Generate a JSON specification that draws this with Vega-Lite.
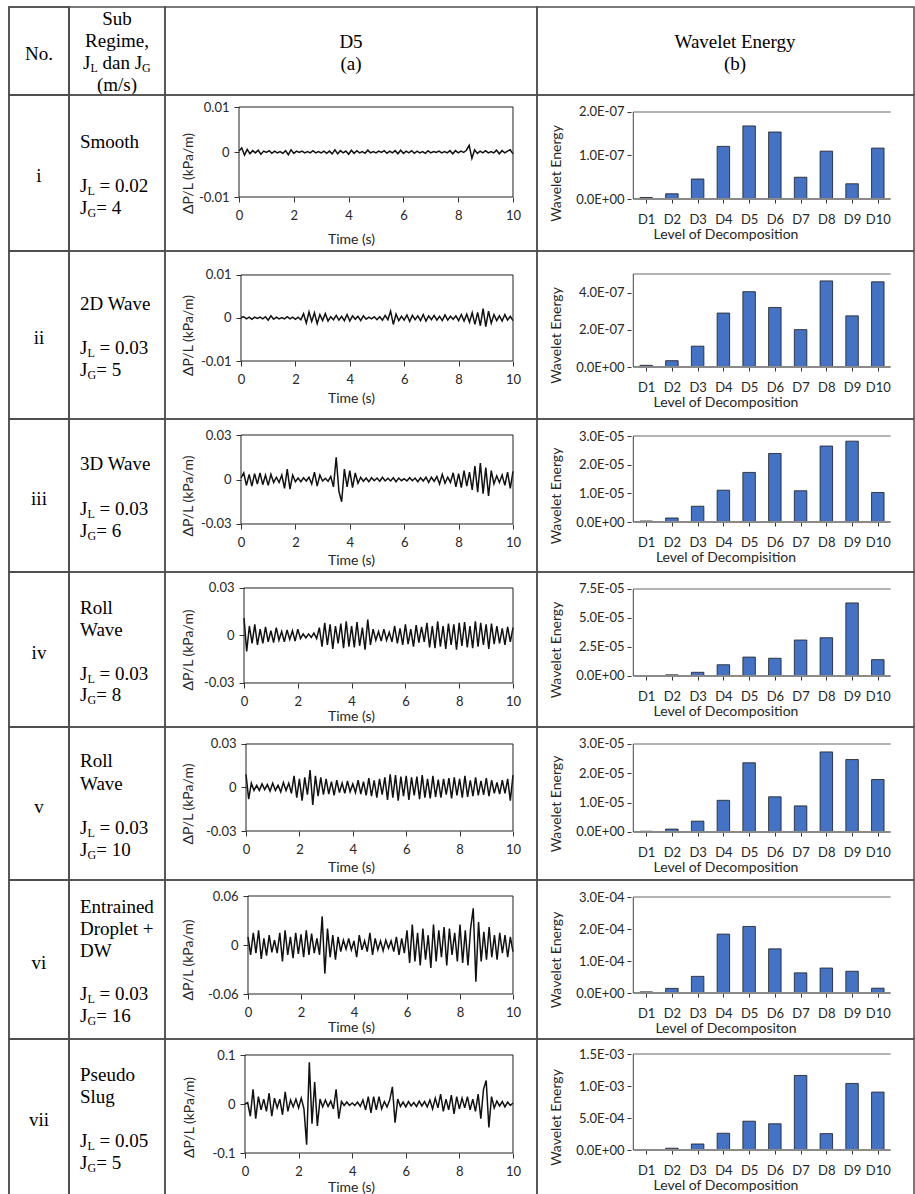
{
"$schema": "https://vega.github.io/schema/vega-lite/v6.json",
"background": "white",
"padding": {"left": 0, "top": 5, "right": 0, "bottom": 0},
"spacing": 0,
"bounds": "flush",
"columns": 5,
"config": {
 "view": {"stroke": "#4d4d4d", "strokeWidth": 1.5},
 "concat": {"spacing": 0},
 "axis": {"domain": false, "grid": false, "labelFont": "Lato", "titleFont": "Lato", "labelFontSize": 13, "titleFontSize": 14, "titleFontWeight": "normal", "labelColor": "#262626", "titleColor": "#262626", "tickColor": "#333", "labelFlush": false, "labelOverlap": false},
 "axisX": {"tickSize": 5, "labelPadding": 7},
 "axisY": {"tickSize": 5, "labelPadding": 5},
 "text": {"font": "Liberation Serif", "fontSize": 19, "color": "#000"}
},
"datasets": {
"s1": [{"t":0,"v":0.0002},{"t":0.1,"v":0.0009},{"t":0.2,"v":-0.0007},{"t":0.3,"v":0.0006},{"t":0.4,"v":-0.0004},{"t":0.5,"v":0.0003},{"t":0.6,"v":-0.0002},{"t":0.7,"v":0.0004},{"t":0.8,"v":-0.0005},{"t":0.9,"v":0.0002},
{"t":1,"v":-0.0001},{"t":1.1,"v":0.0003},{"t":1.2,"v":-0.0003},{"t":1.3,"v":0.0002},{"t":1.4,"v":-0.0002},{"t":1.5,"v":0.0001},{"t":1.6,"v":-0.0003},{"t":1.7,"v":0.0003},{"t":1.8,"v":-0.0006},{"t":1.9,"v":0.0005},
{"t":2,"v":-0.0003},{"t":2.1,"v":0.0002},{"t":2.2,"v":-0.0001},{"t":2.3,"v":0.0002},{"t":2.4,"v":-0.0002},{"t":2.5,"v":0.0001},{"t":2.6,"v":-0.0002},{"t":2.7,"v":0.0003},{"t":2.8,"v":-0.0002},{"t":2.9,"v":0.0001},
{"t":3,"v":-0.0002},{"t":3.1,"v":0.0002},{"t":3.2,"v":-0.0003},{"t":3.3,"v":0.0002},{"t":3.4,"v":-0.0004},{"t":3.5,"v":0.0005},{"t":3.6,"v":-0.0004},{"t":3.7,"v":0.0003},{"t":3.8,"v":-0.0002},{"t":3.9,"v":0.0002},
{"t":4,"v":-0.0005},{"t":4.1,"v":0.0004},{"t":4.2,"v":-0.0003},{"t":4.3,"v":0.0003},{"t":4.4,"v":-0.0002},{"t":4.5,"v":0.0001},{"t":4.6,"v":-0.0003},{"t":4.7,"v":0.0004},{"t":4.8,"v":-0.0002},{"t":4.9,"v":0.0001},
{"t":5,"v":-0.0002},{"t":5.1,"v":0.0002},{"t":5.2,"v":-0.0001},{"t":5.3,"v":0.0003},{"t":5.4,"v":-0.0003},{"t":5.5,"v":0.0002},{"t":5.6,"v":-0.0002},{"t":5.7,"v":0.0003},{"t":5.8,"v":-0.0004},{"t":5.9,"v":0.0004},
{"t":6,"v":-0.0003},{"t":6.1,"v":0.0002},{"t":6.2,"v":-0.0002},{"t":6.3,"v":0.0003},{"t":6.4,"v":-0.0003},{"t":6.5,"v":0.0002},{"t":6.6,"v":-0.0002},{"t":6.7,"v":0.0001},{"t":6.8,"v":-0.0003},{"t":6.9,"v":0.0003},
{"t":7,"v":-0.0002},{"t":7.1,"v":0.0001},{"t":7.2,"v":-0.0001},{"t":7.3,"v":0.0002},{"t":7.4,"v":-0.0002},{"t":7.5,"v":0.0001},{"t":7.6,"v":-0.0002},{"t":7.7,"v":0.0003},{"t":7.8,"v":-0.0004},{"t":7.9,"v":0.0003},
{"t":8,"v":-0.0002},{"t":8.1,"v":0.0002},{"t":8.2,"v":-0.0001},{"t":8.3,"v":0.0004},{"t":8.4,"v":0.0015},{"t":8.5,"v":-0.0014},{"t":8.6,"v":0.0005},{"t":8.7,"v":-0.0003},{"t":8.8,"v":0.0002},{"t":8.9,"v":-0.0002},
{"t":9,"v":0.0003},{"t":9.1,"v":-0.0002},{"t":9.2,"v":0.0001},{"t":9.3,"v":-0.0002},{"t":9.4,"v":0.0004},{"t":9.5,"v":-0.0004},{"t":9.6,"v":0.0003},{"t":9.7,"v":-0.0002},{"t":9.8,"v":0.0002},{"t":9.9,"v":0.0005},
{"t":10,"v":-0.0004}],
"s2": [{"t":0,"v":0.0001},{"t":0.1,"v":0.0003},{"t":0.2,"v":-0.0002},{"t":0.3,"v":0.0002},{"t":0.4,"v":-0.0003},{"t":0.5,"v":0.0002},{"t":0.6,"v":-0.0001},{"t":0.7,"v":0.0002},{"t":0.8,"v":-0.0002},{"t":0.9,"v":0.0003},
{"t":1,"v":-0.0005},{"t":1.1,"v":0.0005},{"t":1.2,"v":-0.0003},{"t":1.3,"v":0.0002},{"t":1.4,"v":-0.0002},{"t":1.5,"v":0.0001},{"t":1.6,"v":-0.0002},{"t":1.7,"v":0.0003},{"t":1.8,"v":-0.0002},{"t":1.9,"v":0.0002},
{"t":2,"v":-0.0003},{"t":2.1,"v":0.0002},{"t":2.2,"v":-0.0004},{"t":2.3,"v":0.001},{"t":2.4,"v":-0.0012},{"t":2.5,"v":0.0014},{"t":2.6,"v":-0.0008},{"t":2.7,"v":0.0012},{"t":2.8,"v":-0.0013},{"t":2.9,"v":0.0008},
{"t":3,"v":-0.0006},{"t":3.1,"v":0.001},{"t":3.2,"v":-0.0007},{"t":3.3,"v":0.0003},{"t":3.4,"v":-0.0004},{"t":3.5,"v":0.0006},{"t":3.6,"v":-0.0005},{"t":3.7,"v":0.0004},{"t":3.8,"v":-0.0006},{"t":3.9,"v":0.0008},
{"t":4,"v":-0.0007},{"t":4.1,"v":0.0005},{"t":4.2,"v":-0.0003},{"t":4.3,"v":0.0004},{"t":4.4,"v":-0.0006},{"t":4.5,"v":0.0005},{"t":4.6,"v":-0.0003},{"t":4.7,"v":0.0002},{"t":4.8,"v":-0.0002},{"t":4.9,"v":0.0003},
{"t":5,"v":-0.0004},{"t":5.1,"v":0.0003},{"t":5.2,"v":-0.0005},{"t":5.3,"v":0.0006},{"t":5.4,"v":-0.0004},{"t":5.5,"v":0.0016},{"t":5.6,"v":-0.0015},{"t":5.7,"v":0.0009},{"t":5.8,"v":-0.0006},{"t":5.9,"v":0.0004},
{"t":6,"v":-0.0005},{"t":6.1,"v":0.0007},{"t":6.2,"v":-0.0008},{"t":6.3,"v":0.0006},{"t":6.4,"v":-0.0004},{"t":6.5,"v":0.0005},{"t":6.6,"v":-0.0006},{"t":6.7,"v":0.0008},{"t":6.8,"v":-0.0007},{"t":6.9,"v":0.0005},
{"t":7,"v":-0.0004},{"t":7.1,"v":0.0006},{"t":7.2,"v":-0.0005},{"t":7.3,"v":0.0004},{"t":7.4,"v":-0.0006},{"t":7.5,"v":0.0007},{"t":7.6,"v":-0.0005},{"t":7.7,"v":0.0004},{"t":7.8,"v":-0.0003},{"t":7.9,"v":0.0005},
{"t":8,"v":-0.0006},{"t":8.1,"v":0.0008},{"t":8.2,"v":-0.0007},{"t":8.3,"v":0.0009},{"t":8.4,"v":-0.001},{"t":8.5,"v":0.0012},{"t":8.6,"v":-0.0015},{"t":8.7,"v":0.0013},{"t":8.8,"v":-0.0018},{"t":8.9,"v":0.0022},
{"t":9,"v":-0.002},{"t":9.1,"v":0.0016},{"t":9.2,"v":-0.0012},{"t":9.3,"v":0.0008},{"t":9.4,"v":-0.0006},{"t":9.5,"v":0.0005},{"t":9.6,"v":-0.0007},{"t":9.7,"v":0.0008},{"t":9.8,"v":-0.0005},{"t":9.9,"v":0.0004},
{"t":10,"v":-0.0006}],
"s3": [{"t":0,"v":0.001},{"t":0.1,"v":0.0045},{"t":0.2,"v":-0.004},{"t":0.3,"v":0.0035},{"t":0.4,"v":-0.0045},{"t":0.5,"v":0.004},{"t":0.6,"v":-0.003},{"t":0.7,"v":0.0045},{"t":0.8,"v":-0.0035},{"t":0.9,"v":0.003},
{"t":1,"v":-0.004},{"t":1.1,"v":0.0035},{"t":1.2,"v":-0.002},{"t":1.3,"v":0.0015},{"t":1.4,"v":-0.002},{"t":1.5,"v":0.003},{"t":1.6,"v":-0.006},{"t":1.7,"v":0.007},{"t":1.8,"v":-0.0065},{"t":1.9,"v":0.003},
{"t":2,"v":-0.0015},{"t":2.1,"v":0.001},{"t":2.2,"v":-0.0015},{"t":2.3,"v":0.0012},{"t":2.4,"v":-0.001},{"t":2.5,"v":0.0015},{"t":2.6,"v":-0.003},{"t":2.7,"v":0.005},{"t":2.8,"v":-0.0045},{"t":2.9,"v":0.003},
{"t":3,"v":-0.001},{"t":3.1,"v":0.0008},{"t":3.2,"v":-0.0012},{"t":3.3,"v":0.002},{"t":3.4,"v":-0.005},{"t":3.5,"v":0.015},{"t":3.6,"v":-0.008},{"t":3.7,"v":-0.015},{"t":3.8,"v":0.007},{"t":3.9,"v":-0.005},
{"t":4,"v":0.006},{"t":4.1,"v":-0.0055},{"t":4.2,"v":0.0045},{"t":4.3,"v":-0.0025},{"t":4.4,"v":0.0015},{"t":4.5,"v":-0.0012},{"t":4.6,"v":0.001},{"t":4.7,"v":-0.0015},{"t":4.8,"v":0.0012},{"t":4.9,"v":-0.0008},
{"t":5,"v":0.001},{"t":5.1,"v":-0.0012},{"t":5.2,"v":0.0015},{"t":5.3,"v":-0.001},{"t":5.4,"v":0.0008},{"t":5.5,"v":-0.001},{"t":5.6,"v":0.0012},{"t":5.7,"v":-0.0015},{"t":5.8,"v":0.001},{"t":5.9,"v":-0.0008},
{"t":6,"v":0.0006},{"t":6.1,"v":-0.001},{"t":6.2,"v":0.0012},{"t":6.3,"v":-0.0008},{"t":6.4,"v":0.001},{"t":6.5,"v":-0.0015},{"t":6.6,"v":0.0012},{"t":6.7,"v":-0.001},{"t":6.8,"v":0.0015},{"t":6.9,"v":-0.002},
{"t":7,"v":0.0015},{"t":7.1,"v":-0.0012},{"t":7.2,"v":0.002},{"t":7.3,"v":-0.003},{"t":7.4,"v":0.0035},{"t":7.5,"v":-0.0025},{"t":7.6,"v":0.0015},{"t":7.7,"v":-0.002},{"t":7.8,"v":0.0045},{"t":7.9,"v":-0.005},
{"t":8,"v":0.004},{"t":8.1,"v":-0.0055},{"t":8.2,"v":0.006},{"t":8.3,"v":-0.0045},{"t":8.4,"v":0.005},{"t":8.5,"v":-0.007},{"t":8.6,"v":0.009},{"t":8.7,"v":-0.0085},{"t":8.8,"v":0.011},{"t":8.9,"v":-0.0095},
{"t":9,"v":0.008},{"t":9.1,"v":-0.011},{"t":9.2,"v":0.006},{"t":9.3,"v":-0.003},{"t":9.4,"v":0.0025},{"t":9.5,"v":-0.002},{"t":9.6,"v":0.003},{"t":9.7,"v":-0.004},{"t":9.8,"v":0.005},{"t":9.9,"v":-0.006},
{"t":10,"v":0.0055}],
"s4": [{"t":0,"v":0.011},{"t":0.1,"v":-0.01},{"t":0.2,"v":0.006},{"t":0.3,"v":-0.005},{"t":0.4,"v":0.007},{"t":0.5,"v":-0.006},{"t":0.6,"v":0.004},{"t":0.7,"v":-0.005},{"t":0.8,"v":0.0055},{"t":0.9,"v":-0.004},
{"t":1,"v":0.003},{"t":1.1,"v":-0.0045},{"t":1.2,"v":0.005},{"t":1.3,"v":-0.003},{"t":1.4,"v":0.0025},{"t":1.5,"v":-0.004},{"t":1.6,"v":0.0035},{"t":1.7,"v":-0.0025},{"t":1.8,"v":0.003},{"t":1.9,"v":-0.0035},
{"t":2,"v":0.004},{"t":2.1,"v":-0.002},{"t":2.2,"v":0.001},{"t":2.3,"v":-0.0015},{"t":2.4,"v":0.001},{"t":2.5,"v":-0.0012},{"t":2.6,"v":0.0015},{"t":2.7,"v":-0.002},{"t":2.8,"v":0.005},{"t":2.9,"v":-0.007},
{"t":3,"v":0.008},{"t":3.1,"v":-0.006},{"t":3.2,"v":0.007},{"t":3.3,"v":-0.0085},{"t":3.4,"v":0.006},{"t":3.5,"v":-0.005},{"t":3.6,"v":0.0075},{"t":3.7,"v":-0.008},{"t":3.8,"v":0.009},{"t":3.9,"v":-0.007},
{"t":4,"v":0.006},{"t":4.1,"v":-0.0075},{"t":4.2,"v":0.0085},{"t":4.3,"v":-0.0065},{"t":4.4,"v":0.005},{"t":4.5,"v":-0.009},{"t":4.6,"v":0.01},{"t":4.7,"v":-0.006},{"t":4.8,"v":0.004},{"t":4.9,"v":-0.003},
{"t":5,"v":0.0025},{"t":5.1,"v":-0.0035},{"t":5.2,"v":0.004},{"t":5.3,"v":-0.003},{"t":5.4,"v":0.002},{"t":5.5,"v":-0.004},{"t":5.6,"v":0.006},{"t":5.7,"v":-0.005},{"t":5.8,"v":0.0045},{"t":5.9,"v":-0.006},
{"t":6,"v":0.007},{"t":6.1,"v":-0.0055},{"t":6.2,"v":0.004},{"t":6.3,"v":-0.007},{"t":6.4,"v":0.0065},{"t":6.5,"v":-0.0045},{"t":6.6,"v":0.0055},{"t":6.7,"v":-0.004},{"t":6.8,"v":0.008},{"t":6.9,"v":-0.0075},
{"t":7,"v":0.006},{"t":7.1,"v":-0.008},{"t":7.2,"v":0.009},{"t":7.3,"v":-0.007},{"t":7.4,"v":0.006},{"t":7.5,"v":-0.0085},{"t":7.6,"v":0.0075},{"t":7.7,"v":-0.006},{"t":7.8,"v":0.007},{"t":7.9,"v":-0.009},
{"t":8,"v":0.008},{"t":8.1,"v":-0.0065},{"t":8.2,"v":0.0085},{"t":8.3,"v":-0.0075},{"t":8.4,"v":0.006},{"t":8.5,"v":-0.008},{"t":8.6,"v":0.009},{"t":8.7,"v":-0.007},{"t":8.8,"v":0.008},{"t":8.9,"v":-0.006},
{"t":9,"v":0.007},{"t":9.1,"v":-0.0085},{"t":9.2,"v":0.0075},{"t":9.3,"v":-0.0055},{"t":9.4,"v":0.006},{"t":9.5,"v":-0.005},{"t":9.6,"v":0.0045},{"t":9.7,"v":-0.006},{"t":9.8,"v":0.0055},{"t":9.9,"v":-0.004},
{"t":10,"v":0.005}],
"s5": [{"t":0,"v":0.009},{"t":0.1,"v":-0.008},{"t":0.2,"v":0.003},{"t":0.3,"v":-0.002},{"t":0.4,"v":0.0015},{"t":0.5,"v":-0.002},{"t":0.6,"v":0.0025},{"t":0.7,"v":-0.0015},{"t":0.8,"v":0.002},{"t":0.9,"v":-0.0025},
{"t":1,"v":0.003},{"t":1.1,"v":-0.002},{"t":1.2,"v":0.0015},{"t":1.3,"v":-0.003},{"t":1.4,"v":0.0035},{"t":1.5,"v":-0.002},{"t":1.6,"v":0.003},{"t":1.7,"v":-0.004},{"t":1.8,"v":0.008},{"t":1.9,"v":-0.007},
{"t":2,"v":0.006},{"t":2.1,"v":-0.009},{"t":2.2,"v":0.007},{"t":2.3,"v":-0.005},{"t":2.4,"v":0.012},{"t":2.5,"v":-0.012},{"t":2.6,"v":0.008},{"t":2.7,"v":-0.006},{"t":2.8,"v":0.007},{"t":2.9,"v":-0.005},
{"t":3,"v":0.006},{"t":3.1,"v":-0.0045},{"t":3.2,"v":0.004},{"t":3.3,"v":-0.0055},{"t":3.4,"v":0.005},{"t":3.5,"v":-0.0035},{"t":3.6,"v":0.003},{"t":3.7,"v":-0.004},{"t":3.8,"v":0.0045},{"t":3.9,"v":-0.003},
{"t":4,"v":0.0025},{"t":4.1,"v":-0.0035},{"t":4.2,"v":0.005},{"t":4.3,"v":-0.0045},{"t":4.4,"v":0.004},{"t":4.5,"v":-0.0055},{"t":4.6,"v":0.0065},{"t":4.7,"v":-0.006},{"t":4.8,"v":0.005},{"t":4.9,"v":-0.007},
{"t":5,"v":0.006},{"t":5.1,"v":-0.005},{"t":5.2,"v":0.007},{"t":5.3,"v":-0.0085},{"t":5.4,"v":0.009},{"t":5.5,"v":-0.007},{"t":5.6,"v":0.0085},{"t":5.7,"v":-0.009},{"t":5.8,"v":0.0075},{"t":5.9,"v":-0.006},
{"t":6,"v":0.008},{"t":6.1,"v":-0.0085},{"t":6.2,"v":0.007},{"t":6.3,"v":-0.0055},{"t":6.4,"v":0.0075},{"t":6.5,"v":-0.008},{"t":6.6,"v":0.0085},{"t":6.7,"v":-0.007},{"t":6.8,"v":0.006},{"t":6.9,"v":-0.0075},
{"t":7,"v":0.008},{"t":7.1,"v":-0.0065},{"t":7.2,"v":0.0055},{"t":7.3,"v":-0.007},{"t":7.4,"v":0.006},{"t":7.5,"v":-0.005},{"t":7.6,"v":0.0065},{"t":7.7,"v":-0.0075},{"t":7.8,"v":0.007},{"t":7.9,"v":-0.0055},
{"t":8,"v":0.006},{"t":8.1,"v":-0.007},{"t":8.2,"v":0.008},{"t":8.3,"v":-0.0065},{"t":8.4,"v":0.005},{"t":8.5,"v":-0.006},{"t":8.6,"v":0.007},{"t":8.7,"v":-0.0055},{"t":8.8,"v":0.0045},{"t":8.9,"v":-0.005},
{"t":9,"v":0.0065},{"t":9.1,"v":-0.006},{"t":9.2,"v":0.005},{"t":9.3,"v":-0.004},{"t":9.4,"v":0.0035},{"t":9.5,"v":-0.0045},{"t":9.6,"v":0.005},{"t":9.7,"v":-0.004},{"t":9.8,"v":0.006},{"t":9.9,"v":-0.009},
{"t":10,"v":0.0085}],
"s6": [{"t":0,"v":0.01},{"t":0.1,"v":-0.012},{"t":0.2,"v":0.015},{"t":0.3,"v":-0.01},{"t":0.4,"v":0.018},{"t":0.5,"v":-0.017},{"t":0.6,"v":0.008},{"t":0.7,"v":-0.013},{"t":0.8,"v":0.012},{"t":0.9,"v":-0.009},
{"t":1,"v":0.006},{"t":1.1,"v":-0.01},{"t":1.2,"v":0.015},{"t":1.3,"v":-0.02},{"t":1.4,"v":0.018},{"t":1.5,"v":-0.012},{"t":1.6,"v":0.01},{"t":1.7,"v":-0.016},{"t":1.8,"v":0.015},{"t":1.9,"v":-0.011},
{"t":2,"v":0.013},{"t":2.1,"v":-0.015},{"t":2.2,"v":0.018},{"t":2.3,"v":-0.012},{"t":2.4,"v":0.014},{"t":2.5,"v":-0.01},{"t":2.6,"v":0.008},{"t":2.7,"v":-0.012},{"t":2.8,"v":0.035},{"t":2.9,"v":-0.035},
{"t":3,"v":0.02},{"t":3.1,"v":-0.015},{"t":3.2,"v":0.012},{"t":3.3,"v":-0.018},{"t":3.4,"v":0.01},{"t":3.5,"v":-0.008},{"t":3.6,"v":0.006},{"t":3.7,"v":-0.005},{"t":3.8,"v":0.008},{"t":3.9,"v":-0.006},
{"t":4,"v":0.005},{"t":4.1,"v":-0.015},{"t":4.2,"v":0.012},{"t":4.3,"v":-0.006},{"t":4.4,"v":0.005},{"t":4.5,"v":-0.008},{"t":4.6,"v":0.015},{"t":4.7,"v":-0.012},{"t":4.8,"v":0.008},{"t":4.9,"v":-0.006},
{"t":5,"v":0.005},{"t":5.1,"v":-0.007},{"t":5.2,"v":0.006},{"t":5.3,"v":-0.004},{"t":5.4,"v":0.005},{"t":5.5,"v":-0.008},{"t":5.6,"v":0.01},{"t":5.7,"v":-0.012},{"t":5.8,"v":0.008},{"t":5.9,"v":-0.01},
{"t":6,"v":0.018},{"t":6.1,"v":-0.022},{"t":6.2,"v":0.025},{"t":6.3,"v":-0.02},{"t":6.4,"v":0.015},{"t":6.5,"v":-0.025},{"t":6.6,"v":0.02},{"t":6.7,"v":-0.018},{"t":6.8,"v":0.012},{"t":6.9,"v":-0.028},
{"t":7,"v":0.025},{"t":7.1,"v":-0.02},{"t":7.2,"v":0.018},{"t":7.3,"v":-0.015},{"t":7.4,"v":0.022},{"t":7.5,"v":-0.025},{"t":7.6,"v":0.02},{"t":7.7,"v":-0.012},{"t":7.8,"v":0.015},{"t":7.9,"v":-0.02},
{"t":8,"v":0.025},{"t":8.1,"v":-0.022},{"t":8.2,"v":0.018},{"t":8.3,"v":-0.025},{"t":8.4,"v":0.02},{"t":8.5,"v":0.045},{"t":8.6,"v":-0.045},{"t":8.7,"v":0.028},{"t":8.8,"v":-0.02},{"t":8.9,"v":0.016},
{"t":9,"v":-0.018},{"t":9.1,"v":0.022},{"t":9.2,"v":-0.015},{"t":9.3,"v":0.012},{"t":9.4,"v":-0.018},{"t":9.5,"v":0.015},{"t":9.6,"v":-0.01},{"t":9.7,"v":0.012},{"t":9.8,"v":-0.015},{"t":9.9,"v":0.01},
{"t":10,"v":-0.008}],
"s7": [{"t":0,"v":0},{"t":0.1,"v":0.003},{"t":0.2,"v":-0.025},{"t":0.3,"v":0.03},{"t":0.4,"v":-0.03},{"t":0.5,"v":0.015},{"t":0.6,"v":-0.012},{"t":0.7,"v":0.01},{"t":0.8,"v":-0.015},{"t":0.9,"v":0.022},
{"t":1,"v":-0.025},{"t":1.1,"v":0.012},{"t":1.2,"v":-0.008},{"t":1.3,"v":0.01},{"t":1.4,"v":-0.022},{"t":1.5,"v":0.025},{"t":1.6,"v":-0.015},{"t":1.7,"v":0.008},{"t":1.8,"v":-0.006},{"t":1.9,"v":0.01},
{"t":2,"v":-0.008},{"t":2.1,"v":0.012},{"t":2.2,"v":-0.01},{"t":2.3,"v":-0.083},{"t":2.4,"v":0.085},{"t":2.5,"v":-0.04},{"t":2.6,"v":0.045},{"t":2.7,"v":-0.045},{"t":2.8,"v":0.01},{"t":2.9,"v":-0.006},
{"t":3,"v":0.008},{"t":3.1,"v":-0.005},{"t":3.2,"v":0.006},{"t":3.3,"v":-0.01},{"t":3.4,"v":0.03},{"t":3.5,"v":-0.03},{"t":3.6,"v":0.005},{"t":3.7,"v":-0.003},{"t":3.8,"v":0.004},{"t":3.9,"v":-0.003},
{"t":4,"v":0.002},{"t":4.1,"v":-0.003},{"t":4.2,"v":0.004},{"t":4.3,"v":-0.005},{"t":4.4,"v":0.008},{"t":4.5,"v":-0.012},{"t":4.6,"v":0.015},{"t":4.7,"v":-0.018},{"t":4.8,"v":0.015},{"t":4.9,"v":-0.012},
{"t":5,"v":0.015},{"t":5.1,"v":-0.01},{"t":5.2,"v":0.005},{"t":5.3,"v":-0.006},{"t":5.4,"v":0.008},{"t":5.5,"v":0.035},{"t":5.6,"v":-0.038},{"t":5.7,"v":0.01},{"t":5.8,"v":-0.005},{"t":5.9,"v":0.004},
{"t":6,"v":-0.006},{"t":6.1,"v":0.005},{"t":6.2,"v":-0.004},{"t":6.3,"v":0.003},{"t":6.4,"v":-0.005},{"t":6.5,"v":0.006},{"t":6.6,"v":-0.004},{"t":6.7,"v":0.005},{"t":6.8,"v":-0.006},{"t":6.9,"v":0.008},
{"t":7,"v":-0.01},{"t":7.1,"v":0.012},{"t":7.2,"v":-0.008},{"t":7.3,"v":0.02},{"t":7.4,"v":-0.015},{"t":7.5,"v":0.01},{"t":7.6,"v":-0.012},{"t":7.7,"v":0.018},{"t":7.8,"v":-0.02},{"t":7.9,"v":0.015},
{"t":8,"v":-0.01},{"t":8.1,"v":0.012},{"t":8.2,"v":-0.008},{"t":8.3,"v":0.015},{"t":8.4,"v":-0.012},{"t":8.5,"v":0.01},{"t":8.6,"v":-0.015},{"t":8.7,"v":0.02},{"t":8.8,"v":-0.03},{"t":8.9,"v":0.03},
{"t":9,"v":0.048},{"t":9.1,"v":-0.048},{"t":9.2,"v":0.015},{"t":9.3,"v":-0.008},{"t":9.4,"v":0.006},{"t":9.5,"v":-0.004},{"t":9.6,"v":0.005},{"t":9.7,"v":-0.006},{"t":9.8,"v":0.004},{"t":9.9,"v":-0.003},
{"t":10,"v":0.002}],
"b1": [{"d":1,"e":3.5e-9},{"d":2,"e":1.2e-8},{"d":3,"e":4.6e-8},{"d":4,"e":1.21e-7},{"d":5,"e":1.68e-7},{"d":6,"e":1.54e-7},{"d":7,"e":5e-8},{"d":8,"e":1.1e-7},{"d":9,"e":3.5e-8},{"d":10,"e":1.17e-7}],
"b2": [{"d":1,"e":9e-9},{"d":2,"e":3.4e-8},{"d":3,"e":1.12e-7},{"d":4,"e":2.9e-7},{"d":5,"e":4.05e-7},{"d":6,"e":3.2e-7},{"d":7,"e":2.01e-7},{"d":8,"e":4.63e-7},{"d":9,"e":2.75e-7},{"d":10,"e":4.58e-7}],
"b3": [{"d":1,"e":3.5e-7},{"d":2,"e":1.4e-6},{"d":3,"e":5.5e-6},{"d":4,"e":1.11e-5},{"d":5,"e":1.73e-5},{"d":6,"e":2.39e-5},{"d":7,"e":1.09e-5},{"d":8,"e":2.65e-5},{"d":9,"e":2.82e-5},{"d":10,"e":1.03e-5}],
"b4": [{"d":1,"e":3e-7},{"d":2,"e":1e-6},{"d":3,"e":3.2e-6},{"d":4,"e":9.7e-6},{"d":5,"e":1.63e-5},{"d":6,"e":1.53e-5},{"d":7,"e":3.1e-5},{"d":8,"e":3.3e-5},{"d":9,"e":6.3e-5},{"d":10,"e":1.41e-5}],
"b5": [{"d":1,"e":2.5e-7},{"d":2,"e":1e-6},{"d":3,"e":3.7e-6},{"d":4,"e":1.08e-5},{"d":5,"e":2.36e-5},{"d":6,"e":1.2e-5},{"d":7,"e":8.9e-6},{"d":8,"e":2.73e-5},{"d":9,"e":2.47e-5},{"d":10,"e":1.79e-5}],
"b6": [{"d":1,"e":3.5e-6},{"d":2,"e":1.45e-5},{"d":3,"e":5.2e-5},{"d":4,"e":1.84e-4},{"d":5,"e":2.08e-4},{"d":6,"e":1.38e-4},{"d":7,"e":6.3e-5},{"d":8,"e":7.8e-5},{"d":9,"e":6.8e-5},{"d":10,"e":1.5e-5}],
"b7": [{"d":1,"e":5e-6},{"d":2,"e":2.8e-5},{"d":3,"e":9.4e-5},{"d":4,"e":2.62e-4},{"d":5,"e":4.5e-4},{"d":6,"e":4.1e-4},{"d":7,"e":1.165e-3},{"d":8,"e":2.56e-4},{"d":9,"e":1.04e-3},{"d":10,"e":9.05e-4}]
},
"concat": [
 {"width": 9, "height": 88, "view": {"stroke": null}, "data": {"values": [{}]}, "mark": {"type": "text"}, "encoding": {"text": {"value": ""}}},
 {"width": 60, "height": 88, "data": {"values": [{"n": "No."}]}, "layer": [
  {"mark": {"type": "rect", "fillOpacity": 0, "stroke": "#4d4d4d", "strokeWidth": 1.5}, "encoding": {"x": {"datum": 0, "type": "quantitative", "scale": {"domain": [0, 1], "nice": false, "zero": false}, "axis": null}, "x2": {"datum": 1}, "y": {"datum": 0, "type": "quantitative", "scale": {"domain": [0, 1], "nice": false, "zero": false}, "axis": null}, "y2": {"datum": 1}}},
  {"mark": {"type": "text", "dy": 3}, "encoding": {"text": {"field": "n"}}}]},
 {"width": 96, "height": 88,
  "encoding": {"y": {"field": "line", "type": "quantitative", "scale": {"domain": [-0.568, 3.432], "reverse": true, "nice": false, "zero": false}, "axis": null}},
  "layer": [
   {"data": {"values": [{"line": 0, "t": "Sub"}, {"line": 1, "t": "Regime,"}, {"line": 3, "t": "(m/s)"}]}, "mark": {"type": "text"}, "encoding": {"text": {"field": "t"}}},
   {"data": {"values": [{"line": 2, "t": "J"}]}, "mark": {"type": "text", "align": "left", "dx": -34}, "encoding": {"text": {"field": "t"}}},
   {"data": {"values": [{"line": 2, "t": "L"}]}, "mark": {"type": "text", "align": "left", "dx": -26.6, "dy": 5, "fontSize": 12}, "encoding": {"text": {"field": "t"}}},
   {"data": {"values": [{"line": 2, "t": "dan J"}]}, "mark": {"type": "text", "align": "left", "dx": -14.5}, "encoding": {"text": {"field": "t"}}},
   {"data": {"values": [{"line": 2, "t": "G"}]}, "mark": {"type": "text", "align": "left", "dx": 25, "dy": 5, "fontSize": 12}, "encoding": {"text": {"field": "t"}}}
  ]},
 {"width": 372, "height": 88, "data": {"values": [{"line": 0, "t": "D5"}, {"line": 1, "t": "(a)"}]}, "mark": {"type": "text"},
  "encoding": {"y": {"field": "line", "type": "quantitative", "scale": {"domain": [-1.591, 2.409], "reverse": true, "nice": false, "zero": false}, "axis": null}, "text": {"field": "t"}}},
 {"width": 377, "height": 88, "data": {"values": [{"line": 0, "t": "Wavelet Energy"}, {"line": 1, "t": "(b)"}]}, "mark": {"type": "text", "dx": 9.5},
  "encoding": {"y": {"field": "line", "type": "quantitative", "scale": {"domain": [-1.591, 2.409], "reverse": true, "nice": false, "zero": false}, "axis": null}, "text": {"field": "t"}}},

 {"width": 9, "height": 156, "view": {"stroke": null}, "data": {"values": [{}]}, "mark": {"type": "text"}, "encoding": {"text": {"value": ""}}},
 {"width": 60, "height": 156, "data": {"values": [{"n": "i"}]}, "layer": [
  {"mark": {"type": "rect", "fillOpacity": 0, "stroke": "#4d4d4d", "strokeWidth": 1.5}, "encoding": {"x": {"datum": 0, "type": "quantitative", "scale": {"domain": [0, 1], "nice": false, "zero": false}, "axis": null}, "x2": {"datum": 1}, "y": {"datum": 0, "type": "quantitative", "scale": {"domain": [0, 1], "nice": false, "zero": false}, "axis": null}, "y2": {"datum": 1}}},
  {"mark": {"type": "text", "dy": 3}, "encoding": {"text": {"field": "n"}}}]},
 {"width": 96, "height": 156, "data": {"values": [{"line": 0, "t": "Smooth", "s": "", "r": "", "q": ""}, {"line": 2, "t": "J", "s": "L", "r": "= 0.02", "q": ""}, {"line": 3, "t": "J", "s": "G", "r": "", "q": "= 4"}]},
  "encoding": {"y": {"field": "line", "type": "quantitative", "scale": {"domain": [-2.136, 4.955], "reverse": true, "nice": false, "zero": false}, "axis": null}},
  "layer": [
   {"mark": {"type": "text", "align": "left", "dx": -37}, "encoding": {"text": {"field": "t"}}},
   {"mark": {"type": "text", "align": "left", "dx": -29.6, "dy": 5, "fontSize": 12}, "encoding": {"text": {"field": "s"}}},
   {"mark": {"type": "text", "align": "left", "dx": -17.5}, "encoding": {"text": {"field": "r"}}},
   {"mark": {"type": "text", "align": "left", "dx": -20.8}, "encoding": {"text": {"field": "q"}}}
  ]},
 {"width": 372, "height": 156, "layer": [
  {"data": {"name": "s1"}, "mark": {"type": "line", "color": "#111", "strokeWidth": 1.5},
   "encoding": {
    "x": {"field": "t", "type": "quantitative", "scale": {"domain": [-2.701, 10.876], "nice": false, "zero": false}, "axis": {"title": "Time (s)", "values": [0, 2, 4, 6, 8, 10], "offset": -54, "titlePadding": 10}},
    "y": {"field": "v", "type": "quantitative", "scale": {"domain": [-0.022, 0.01267], "nice": false, "zero": false}, "axis": {"title": "ΔP/L (kPa/m)", "values": [-0.01, 0, 0.01], "labelExpr": "'' + datum.value", "offset": -74, "titlePadding": 3}}}},
  {"data": {"values": [{}]}, "mark": {"type": "rect", "fillOpacity": 0, "stroke": "#222", "strokeWidth": 1},
   "encoding": {"x": {"datum": 0}, "x2": {"datum": 10}, "y": {"datum": -0.01}, "y2": {"datum": 0.01}}}
 ]},
 {"width": 377, "height": 156, "layer": [
  {"data": {"values": [{}]}, "mark": {"type": "rule", "color": "#9a9a9a", "strokeWidth": 1.5}, "encoding": {"x": {"datum": 0.5}, "x2": {"datum": 10.5}, "y": {"datum": 2e-7}}},
  {"data": {"name": "b1"}, "mark": {"type": "bar", "orient": "vertical", "size": 12.5, "fill": "#4472C4", "stroke": "#1a1a1a", "strokeWidth": 0.8},
   "encoding": {
    "x": {"field": "d", "type": "quantitative", "scale": {"domain": [-3.047, 11.212], "nice": false, "zero": false}, "axis": {"title": "Level of Decomposition", "values": [1, 2, 3, 4, 5, 6, 7, 8, 9, 10], "labelExpr": "'D' + datum.value", "offset": -52, "tickSize": 4, "labelPadding": 10, "titlePadding": 1}},
    "y": {"field": "e", "type": "quantitative", "scale": {"domain": [-1.1954e-7, 2.3908e-7], "nice": false, "zero": false}, "axis": {"title": "Wavelet Energy", "values": [0, 1e-7, 2e-7], "labelExpr": "replace(replace(format(datum.value, '.1e'), 'e-', 'E-0'), 'e+', 'E+0')", "offset": -94, "tickSize": 4, "labelPadding": 3, "titlePadding": 12}}}},
  {"data": {"values": [{}]}, "mark": {"type": "rule", "color": "#8a8a8a", "strokeWidth": 2}, "encoding": {"x": {"datum": 0.5}, "x2": {"datum": 10.5}, "y": {"datum": 0}}},
  {"data": {"values": [{}]}, "mark": {"type": "rule", "color": "#444", "strokeWidth": 1}, "encoding": {"x": {"datum": 0.5}, "y": {"datum": 0}, "y2": {"datum": 2e-7}}}
 ]},

 {"width": 9, "height": 168, "view": {"stroke": null}, "data": {"values": [{}]}, "mark": {"type": "text"}, "encoding": {"text": {"value": ""}}},
 {"width": 60, "height": 168, "data": {"values": [{"n": "ii"}]}, "layer": [
  {"mark": {"type": "rect", "fillOpacity": 0, "stroke": "#4d4d4d", "strokeWidth": 1.5}, "encoding": {"x": {"datum": 0, "type": "quantitative", "scale": {"domain": [0, 1], "nice": false, "zero": false}, "axis": null}, "x2": {"datum": 1}, "y": {"datum": 0, "type": "quantitative", "scale": {"domain": [0, 1], "nice": false, "zero": false}, "axis": null}, "y2": {"datum": 1}}},
  {"mark": {"type": "text", "dy": 3}, "encoding": {"text": {"field": "n"}}}]},
 {"width": 96, "height": 168, "data": {"values": [{"line": 0, "t": "2D Wave", "s": "", "r": "", "q": ""}, {"line": 2, "t": "J", "s": "L", "r": "= 0.03", "q": ""}, {"line": 3, "t": "J", "s": "G", "r": "", "q": "= 5"}]},
  "encoding": {"y": {"field": "line", "type": "quantitative", "scale": {"domain": [-2.409, 5.227], "reverse": true, "nice": false, "zero": false}, "axis": null}},
  "layer": [
   {"mark": {"type": "text", "align": "left", "dx": -37}, "encoding": {"text": {"field": "t"}}},
   {"mark": {"type": "text", "align": "left", "dx": -29.6, "dy": 5, "fontSize": 12}, "encoding": {"text": {"field": "s"}}},
   {"mark": {"type": "text", "align": "left", "dx": -17.5}, "encoding": {"text": {"field": "r"}}},
   {"mark": {"type": "text", "align": "left", "dx": -20.8}, "encoding": {"text": {"field": "q"}}}
  ]},
 {"width": 372, "height": 168, "layer": [
  {"data": {"name": "s2"}, "mark": {"type": "line", "color": "#111", "strokeWidth": 1.5},
   "encoding": {
    "x": {"field": "t", "type": "quantitative", "scale": {"domain": [-2.794, 10.882], "nice": false, "zero": false}, "axis": {"title": "Time (s)", "values": [0, 2, 4, 6, 8, 10], "offset": -58, "titlePadding": 5.5}},
    "y": {"field": "v", "type": "quantitative", "scale": {"domain": [-0.023488, 0.015581], "nice": false, "zero": false}, "axis": {"title": "ΔP/L (kPa/m)", "values": [-0.01, 0, 0.01], "labelExpr": "'' + datum.value", "offset": -76, "titlePadding": 5}}}},
  {"data": {"values": [{}]}, "mark": {"type": "rect", "fillOpacity": 0, "stroke": "#222", "strokeWidth": 1},
   "encoding": {"x": {"datum": 0}, "x2": {"datum": 10}, "y": {"datum": -0.01}, "y2": {"datum": 0.01}}}
 ]},
 {"width": 377, "height": 168, "layer": [
  {"data": {"values": [{}]}, "mark": {"type": "rule", "color": "#9a9a9a", "strokeWidth": 1.5}, "encoding": {"x": {"datum": 0.5}, "x2": {"datum": 10.5}, "y": {"datum": 5e-7}}},
  {"data": {"name": "b2"}, "mark": {"type": "bar", "orient": "vertical", "size": 12.5, "fill": "#4472C4", "stroke": "#1a1a1a", "strokeWidth": 0.8},
   "encoding": {
    "x": {"field": "d", "type": "quantitative", "scale": {"domain": [-3.047, 11.212], "nice": false, "zero": false}, "axis": {"title": "Level of Decomposition", "values": [1, 2, 3, 4, 5, 6, 7, 8, 9, 10], "labelExpr": "'D' + datum.value", "offset": -52, "tickSize": 4, "labelPadding": 10, "titlePadding": 1}},
    "y": {"field": "e", "type": "quantitative", "scale": {"domain": [-2.7957e-7, 6.2366e-7], "nice": false, "zero": false}, "axis": {"title": "Wavelet Energy", "values": [0, 1e-7, 2e-7, 3e-7, 4e-7, 5e-7], "labelExpr": "replace(replace(format(datum.value, '.1e'), 'e-', 'E-0'), 'e+', 'E+0')", "offset": -94, "tickSize": 4, "labelPadding": 3, "titlePadding": 12}}}},
  {"data": {"values": [{}]}, "mark": {"type": "rule", "color": "#8a8a8a", "strokeWidth": 2}, "encoding": {"x": {"datum": 0.5}, "x2": {"datum": 10.5}, "y": {"datum": 0}}},
  {"data": {"values": [{}]}, "mark": {"type": "rule", "color": "#444", "strokeWidth": 1}, "encoding": {"x": {"datum": 0.5}, "y": {"datum": 0}, "y2": {"datum": 5e-7}}}
 ]},

 {"width": 9, "height": 153, "view": {"stroke": null}, "data": {"values": [{}]}, "mark": {"type": "text"}, "encoding": {"text": {"value": ""}}},
 {"width": 60, "height": 153, "data": {"values": [{"n": "iii"}]}, "layer": [
  {"mark": {"type": "rect", "fillOpacity": 0, "stroke": "#4d4d4d", "strokeWidth": 1.5}, "encoding": {"x": {"datum": 0, "type": "quantitative", "scale": {"domain": [0, 1], "nice": false, "zero": false}, "axis": null}, "x2": {"datum": 1}, "y": {"datum": 0, "type": "quantitative", "scale": {"domain": [0, 1], "nice": false, "zero": false}, "axis": null}, "y2": {"datum": 1}}},
  {"mark": {"type": "text", "dy": 3}, "encoding": {"text": {"field": "n"}}}]},
 {"width": 96, "height": 153, "data": {"values": [{"line": 0, "t": "3D Wave", "s": "", "r": "", "q": ""}, {"line": 2, "t": "J", "s": "L", "r": "= 0.03", "q": ""}, {"line": 3, "t": "J", "s": "G", "r": "", "q": "= 6"}]},
  "encoding": {"y": {"field": "line", "type": "quantitative", "scale": {"domain": [-2.068, 4.886], "reverse": true, "nice": false, "zero": false}, "axis": null}},
  "layer": [
   {"mark": {"type": "text", "align": "left", "dx": -37}, "encoding": {"text": {"field": "t"}}},
   {"mark": {"type": "text", "align": "left", "dx": -29.6, "dy": 5, "fontSize": 12}, "encoding": {"text": {"field": "s"}}},
   {"mark": {"type": "text", "align": "left", "dx": -17.5}, "encoding": {"text": {"field": "r"}}},
   {"mark": {"type": "text", "align": "left", "dx": -20.8}, "encoding": {"text": {"field": "q"}}}
  ]},
 {"width": 372, "height": 153, "layer": [
  {"data": {"name": "s3"}, "mark": {"type": "line", "color": "#111", "strokeWidth": 1.5},
   "encoding": {
    "x": {"field": "t", "type": "quantitative", "scale": {"domain": [-2.794, 10.882], "nice": false, "zero": false}, "axis": {"title": "Time (s)", "values": [0, 2, 4, 6, 8, 10], "offset": -48, "titlePadding": 4.5}},
    "y": {"field": "v", "type": "quantitative", "scale": {"domain": [-0.06236, 0.040787], "nice": false, "zero": false}, "axis": {"title": "ΔP/L (kPa/m)", "values": [-0.03, 0, 0.03], "labelExpr": "'' + datum.value", "offset": -76, "titlePadding": 5}}}},
  {"data": {"values": [{}]}, "mark": {"type": "rect", "fillOpacity": 0, "stroke": "#222", "strokeWidth": 1},
   "encoding": {"x": {"datum": 0}, "x2": {"datum": 10}, "y": {"datum": -0.03}, "y2": {"datum": 0.03}}}
 ]},
 {"width": 377, "height": 153, "layer": [
  {"data": {"values": [{}]}, "mark": {"type": "rule", "color": "#9a9a9a", "strokeWidth": 1.5}, "encoding": {"x": {"datum": 0.5}, "x2": {"datum": 10.5}, "y": {"datum": 3e-5}}},
  {"data": {"name": "b3"}, "mark": {"type": "bar", "orient": "vertical", "size": 12.5, "fill": "#4472C4", "stroke": "#1a1a1a", "strokeWidth": 0.8},
   "encoding": {
    "x": {"field": "d", "type": "quantitative", "scale": {"domain": [-3.047, 11.212], "nice": false, "zero": false}, "axis": {"title": "Level of Decompisition", "values": [1, 2, 3, 4, 5, 6, 7, 8, 9, 10], "labelExpr": "'D' + datum.value", "offset": -50, "tickSize": 4, "labelPadding": 10, "titlePadding": 1}},
    "y": {"field": "e", "type": "quantitative", "scale": {"domain": [-1.744e-5, 3.593e-5], "nice": false, "zero": false}, "axis": {"title": "Wavelet Energy", "values": [0, 1e-5, 2e-5, 3e-5], "labelExpr": "replace(replace(format(datum.value, '.1e'), 'e-', 'E-0'), 'e+', 'E+0')", "offset": -94, "tickSize": 4, "labelPadding": 3, "titlePadding": 12}}}},
  {"data": {"values": [{}]}, "mark": {"type": "rule", "color": "#8a8a8a", "strokeWidth": 2}, "encoding": {"x": {"datum": 0.5}, "x2": {"datum": 10.5}, "y": {"datum": 0}}},
  {"data": {"values": [{}]}, "mark": {"type": "rule", "color": "#444", "strokeWidth": 1}, "encoding": {"x": {"datum": 0.5}, "y": {"datum": 0}, "y2": {"datum": 3e-5}}}
 ]},

 {"width": 9, "height": 155, "view": {"stroke": null}, "data": {"values": [{}]}, "mark": {"type": "text"}, "encoding": {"text": {"value": ""}}},
 {"width": 60, "height": 155, "data": {"values": [{"n": "iv"}]}, "layer": [
  {"mark": {"type": "rect", "fillOpacity": 0, "stroke": "#4d4d4d", "strokeWidth": 1.5}, "encoding": {"x": {"datum": 0, "type": "quantitative", "scale": {"domain": [0, 1], "nice": false, "zero": false}, "axis": null}, "x2": {"datum": 1}, "y": {"datum": 0, "type": "quantitative", "scale": {"domain": [0, 1], "nice": false, "zero": false}, "axis": null}, "y2": {"datum": 1}}},
  {"mark": {"type": "text", "dy": 3}, "encoding": {"text": {"field": "n"}}}]},
 {"width": 96, "height": 155, "data": {"values": [{"line": 0, "t": "Roll", "s": "", "r": "", "q": ""}, {"line": 1, "t": "Wave", "s": "", "r": "", "q": ""}, {"line": 3, "t": "J", "s": "L", "r": "= 0.03", "q": ""}, {"line": 4, "t": "J", "s": "G", "r": "", "q": "= 8"}]},
  "encoding": {"y": {"field": "line", "type": "quantitative", "scale": {"domain": [-1.614, 5.432], "reverse": true, "nice": false, "zero": false}, "axis": null}},
  "layer": [
   {"mark": {"type": "text", "align": "left", "dx": -37}, "encoding": {"text": {"field": "t"}}},
   {"mark": {"type": "text", "align": "left", "dx": -29.6, "dy": 5, "fontSize": 12}, "encoding": {"text": {"field": "s"}}},
   {"mark": {"type": "text", "align": "left", "dx": -17.5}, "encoding": {"text": {"field": "r"}}},
   {"mark": {"type": "text", "align": "left", "dx": -20.8}, "encoding": {"text": {"field": "q"}}}
  ]},
 {"width": 372, "height": 155, "layer": [
  {"data": {"name": "s4"}, "mark": {"type": "line", "color": "#111", "strokeWidth": 1.5},
   "encoding": {
    "x": {"field": "t", "type": "quantitative", "scale": {"domain": [-2.937, 10.892], "nice": false, "zero": false}, "axis": {"title": "Time (s)", "values": [0, 2, 4, 6, 8, 10], "offset": -44, "titlePadding": 1}},
    "y": {"field": "v", "type": "quantitative", "scale": {"domain": [-0.05779, 0.040105], "nice": false, "zero": false}, "axis": {"title": "ΔP/L (kPa/m)", "values": [-0.03, 0, 0.03], "labelExpr": "'' + datum.value", "offset": -79, "titlePadding": 8}}}},
  {"data": {"values": [{}]}, "mark": {"type": "rect", "fillOpacity": 0, "stroke": "#222", "strokeWidth": 1},
   "encoding": {"x": {"datum": 0}, "x2": {"datum": 10}, "y": {"datum": -0.03}, "y2": {"datum": 0.03}}}
 ]},
 {"width": 377, "height": 155, "layer": [
  {"data": {"values": [{}]}, "mark": {"type": "rule", "color": "#9a9a9a", "strokeWidth": 1.5}, "encoding": {"x": {"datum": 0.5}, "x2": {"datum": 10.5}, "y": {"datum": 7.5e-5}}},
  {"data": {"name": "b4"}, "mark": {"type": "bar", "orient": "vertical", "size": 12.5, "fill": "#4472C4", "stroke": "#1a1a1a", "strokeWidth": 0.8},
   "encoding": {
    "x": {"field": "d", "type": "quantitative", "scale": {"domain": [-3.047, 11.212], "nice": false, "zero": false}, "axis": {"title": "Level of Decomposition", "values": [1, 2, 3, 4, 5, 6, 7, 8, 9, 10], "labelExpr": "'D' + datum.value", "offset": -51, "tickSize": 4, "labelPadding": 10, "titlePadding": 1.5}},
    "y": {"field": "e", "type": "quantitative", "scale": {"domain": [-4.3966e-5, 8.9655e-5], "nice": false, "zero": false}, "axis": {"title": "Wavelet Energy", "values": [0, 2.5e-5, 5e-5, 7.5e-5], "labelExpr": "replace(replace(format(datum.value, '.1e'), 'e-', 'E-0'), 'e+', 'E+0')", "offset": -94, "tickSize": 4, "labelPadding": 3, "titlePadding": 12}}}},
  {"data": {"values": [{}]}, "mark": {"type": "rule", "color": "#8a8a8a", "strokeWidth": 2}, "encoding": {"x": {"datum": 0.5}, "x2": {"datum": 10.5}, "y": {"datum": 0}}},
  {"data": {"values": [{}]}, "mark": {"type": "rule", "color": "#444", "strokeWidth": 1}, "encoding": {"x": {"datum": 0.5}, "y": {"datum": 0}, "y2": {"datum": 7.5e-5}}}
 ]},

 {"width": 9, "height": 153, "view": {"stroke": null}, "data": {"values": [{}]}, "mark": {"type": "text"}, "encoding": {"text": {"value": ""}}},
 {"width": 60, "height": 153, "data": {"values": [{"n": "v"}]}, "layer": [
  {"mark": {"type": "rect", "fillOpacity": 0, "stroke": "#4d4d4d", "strokeWidth": 1.5}, "encoding": {"x": {"datum": 0, "type": "quantitative", "scale": {"domain": [0, 1], "nice": false, "zero": false}, "axis": null}, "x2": {"datum": 1}, "y": {"datum": 0, "type": "quantitative", "scale": {"domain": [0, 1], "nice": false, "zero": false}, "axis": null}, "y2": {"datum": 1}}},
  {"mark": {"type": "text", "dy": 3}, "encoding": {"text": {"field": "n"}}}]},
 {"width": 96, "height": 153, "data": {"values": [{"line": 0, "t": "Roll", "s": "", "r": "", "q": ""}, {"line": 1, "t": "Wave", "s": "", "r": "", "q": ""}, {"line": 3, "t": "J", "s": "L", "r": "= 0.03", "q": ""}, {"line": 4, "t": "J", "s": "G", "r": "", "q": "= 10"}]},
  "encoding": {"y": {"field": "line", "type": "quantitative", "scale": {"domain": [-1.568, 5.386], "reverse": true, "nice": false, "zero": false}, "axis": null}},
  "layer": [
   {"mark": {"type": "text", "align": "left", "dx": -37}, "encoding": {"text": {"field": "t"}}},
   {"mark": {"type": "text", "align": "left", "dx": -29.6, "dy": 5, "fontSize": 12}, "encoding": {"text": {"field": "s"}}},
   {"mark": {"type": "text", "align": "left", "dx": -17.5}, "encoding": {"text": {"field": "r"}}},
   {"mark": {"type": "text", "align": "left", "dx": -20.8}, "encoding": {"text": {"field": "q"}}}
  ]},
 {"width": 372, "height": 153, "layer": [
  {"data": {"name": "s5"}, "mark": {"type": "line", "color": "#111", "strokeWidth": 1.5},
   "encoding": {
    "x": {"field": "t", "type": "quantitative", "scale": {"domain": [-3.034, 10.899], "nice": false, "zero": false}, "axis": {"title": "Time (s)", "values": [0, 2, 4, 6, 8, 10], "offset": -49, "titlePadding": 4}},
    "y": {"field": "v", "type": "quantitative", "scale": {"domain": [-0.063793, 0.041724], "nice": false, "zero": false}, "axis": {"title": "ΔP/L (kPa/m)", "values": [-0.03, 0, 0.03], "labelExpr": "'' + datum.value", "offset": -81, "titlePadding": 10}}}},
  {"data": {"values": [{}]}, "mark": {"type": "rect", "fillOpacity": 0, "stroke": "#222", "strokeWidth": 1},
   "encoding": {"x": {"datum": 0}, "x2": {"datum": 10}, "y": {"datum": -0.03}, "y2": {"datum": 0.03}}}
 ]},
 {"width": 377, "height": 153, "layer": [
  {"data": {"values": [{}]}, "mark": {"type": "rule", "color": "#9a9a9a", "strokeWidth": 1.5}, "encoding": {"x": {"datum": 0.5}, "x2": {"datum": 10.5}, "y": {"datum": 3e-5}}},
  {"data": {"name": "b5"}, "mark": {"type": "bar", "orient": "vertical", "size": 12.5, "fill": "#4472C4", "stroke": "#1a1a1a", "strokeWidth": 0.8},
   "encoding": {
    "x": {"field": "d", "type": "quantitative", "scale": {"domain": [-3.047, 11.212], "nice": false, "zero": false}, "axis": {"title": "Level of Decomposition", "values": [1, 2, 3, 4, 5, 6, 7, 8, 9, 10], "labelExpr": "'D' + datum.value", "offset": -48, "tickSize": 4, "labelPadding": 10, "titlePadding": 1}},
    "y": {"field": "e", "type": "quantitative", "scale": {"domain": [-1.6364e-5, 3.5795e-5], "nice": false, "zero": false}, "axis": {"title": "Wavelet Energy", "values": [0, 1e-5, 2e-5, 3e-5], "labelExpr": "replace(replace(format(datum.value, '.1e'), 'e-', 'E-0'), 'e+', 'E+0')", "offset": -94, "tickSize": 4, "labelPadding": 3, "titlePadding": 12}}}},
  {"data": {"values": [{}]}, "mark": {"type": "rule", "color": "#8a8a8a", "strokeWidth": 2}, "encoding": {"x": {"datum": 0.5}, "x2": {"datum": 10.5}, "y": {"datum": 0}}},
  {"data": {"values": [{}]}, "mark": {"type": "rule", "color": "#444", "strokeWidth": 1}, "encoding": {"x": {"datum": 0.5}, "y": {"datum": 0}, "y2": {"datum": 3e-5}}}
 ]},

 {"width": 9, "height": 159, "view": {"stroke": null}, "data": {"values": [{}]}, "mark": {"type": "text"}, "encoding": {"text": {"value": ""}}},
 {"width": 60, "height": 159, "data": {"values": [{"n": "vi"}]}, "layer": [
  {"mark": {"type": "rect", "fillOpacity": 0, "stroke": "#4d4d4d", "strokeWidth": 1.5}, "encoding": {"x": {"datum": 0, "type": "quantitative", "scale": {"domain": [0, 1], "nice": false, "zero": false}, "axis": null}, "x2": {"datum": 1}, "y": {"datum": 0, "type": "quantitative", "scale": {"domain": [0, 1], "nice": false, "zero": false}, "axis": null}, "y2": {"datum": 1}}},
  {"mark": {"type": "text", "dy": 3}, "encoding": {"text": {"field": "n"}}}]},
 {"width": 96, "height": 159, "data": {"values": [{"line": 0, "t": "Entrained", "s": "", "r": "", "q": ""}, {"line": 1, "t": "Droplet +", "s": "", "r": "", "q": ""}, {"line": 2, "t": "DW", "s": "", "r": "", "q": ""}, {"line": 4, "t": "J", "s": "L", "r": "= 0.03", "q": ""}, {"line": 5, "t": "J", "s": "G", "r": "", "q": "= 16"}]},
  "encoding": {"y": {"field": "line", "type": "quantitative", "scale": {"domain": [-1.205, 6.023], "reverse": true, "nice": false, "zero": false}, "axis": null}},
  "layer": [
   {"mark": {"type": "text", "align": "left", "dx": -37}, "encoding": {"text": {"field": "t"}}},
   {"mark": {"type": "text", "align": "left", "dx": -29.6, "dy": 5, "fontSize": 12}, "encoding": {"text": {"field": "s"}}},
   {"mark": {"type": "text", "align": "left", "dx": -17.5}, "encoding": {"text": {"field": "r"}}},
   {"mark": {"type": "text", "align": "left", "dx": -20.8}, "encoding": {"text": {"field": "q"}}}
  ]},
 {"width": 372, "height": 159, "layer": [
  {"data": {"name": "s6"}, "mark": {"type": "line", "color": "#111", "strokeWidth": 1.5},
   "encoding": {
    "x": {"field": "t", "type": "quantitative", "scale": {"domain": [-3.132, 10.906], "nice": false, "zero": false}, "axis": {"title": "Time (s)", "values": [0, 2, 4, 6, 8, 10], "offset": -45, "titlePadding": 1}},
    "y": {"field": "v", "type": "quantitative", "scale": {"domain": [-0.1151, 0.079592], "nice": false, "zero": false}, "axis": {"title": "ΔP/L (kPa/m)", "values": [-0.06, 0, 0.06], "labelExpr": "'' + datum.value", "offset": -83, "titlePadding": 12}}}},
  {"data": {"values": [{}]}, "mark": {"type": "rect", "fillOpacity": 0, "stroke": "#222", "strokeWidth": 1},
   "encoding": {"x": {"datum": 0}, "x2": {"datum": 10}, "y": {"datum": -0.06}, "y2": {"datum": 0.06}}}
 ]},
 {"width": 377, "height": 159, "layer": [
  {"data": {"values": [{}]}, "mark": {"type": "rule", "color": "#9a9a9a", "strokeWidth": 1.5}, "encoding": {"x": {"datum": 0.5}, "x2": {"datum": 10.5}, "y": {"datum": 3e-4}}},
  {"data": {"name": "b6"}, "mark": {"type": "bar", "orient": "vertical", "size": 12.5, "fill": "#4472C4", "stroke": "#1a1a1a", "strokeWidth": 0.8},
   "encoding": {
    "x": {"field": "d", "type": "quantitative", "scale": {"domain": [-3.047, 11.212], "nice": false, "zero": false}, "axis": {"title": "Level of Decompositon", "values": [1, 2, 3, 4, 5, 6, 7, 8, 9, 10], "labelExpr": "'D' + datum.value", "offset": -46, "tickSize": 4, "labelPadding": 10, "titlePadding": 1}},
    "y": {"field": "e", "type": "quantitative", "scale": {"domain": [-1.4375e-4, 3.53125e-4], "nice": false, "zero": false}, "axis": {"title": "Wavelet Energy", "values": [0, 1e-4, 2e-4, 3e-4], "labelExpr": "replace(replace(format(datum.value, '.1e'), 'e-', 'E-0'), 'e+', 'E+0')", "offset": -94, "tickSize": 4, "labelPadding": 3, "titlePadding": 12}}}},
  {"data": {"values": [{}]}, "mark": {"type": "rule", "color": "#8a8a8a", "strokeWidth": 2}, "encoding": {"x": {"datum": 0.5}, "x2": {"datum": 10.5}, "y": {"datum": 0}}},
  {"data": {"values": [{}]}, "mark": {"type": "rule", "color": "#444", "strokeWidth": 1}, "encoding": {"x": {"datum": 0.5}, "y": {"datum": 0}, "y2": {"datum": 3e-4}}}
 ]},

 {"width": 9, "height": 156, "view": {"stroke": null}, "data": {"values": [{}]}, "mark": {"type": "text"}, "encoding": {"text": {"value": ""}}},
 {"width": 60, "height": 156, "data": {"values": [{"n": "vii"}]}, "layer": [
  {"mark": {"type": "rect", "fillOpacity": 0, "stroke": "#4d4d4d", "strokeWidth": 1.5}, "encoding": {"x": {"datum": 0, "type": "quantitative", "scale": {"domain": [0, 1], "nice": false, "zero": false}, "axis": null}, "x2": {"datum": 1}, "y": {"datum": 0, "type": "quantitative", "scale": {"domain": [0, 1], "nice": false, "zero": false}, "axis": null}, "y2": {"datum": 1}}},
  {"mark": {"type": "text", "dy": 3}, "encoding": {"text": {"field": "n"}}}]},
 {"width": 96, "height": 156, "data": {"values": [{"line": 0, "t": "Pseudo", "s": "", "r": "", "q": ""}, {"line": 1, "t": "Slug", "s": "", "r": "", "q": ""}, {"line": 3, "t": "J", "s": "L", "r": "= 0.05", "q": ""}, {"line": 4, "t": "J", "s": "G", "r": "", "q": "= 5"}]},
  "encoding": {"y": {"field": "line", "type": "quantitative", "scale": {"domain": [-1.636, 5.455], "reverse": true, "nice": false, "zero": false}, "axis": null}},
  "layer": [
   {"mark": {"type": "text", "align": "left", "dx": -37}, "encoding": {"text": {"field": "t"}}},
   {"mark": {"type": "text", "align": "left", "dx": -29.6, "dy": 5, "fontSize": 12}, "encoding": {"text": {"field": "s"}}},
   {"mark": {"type": "text", "align": "left", "dx": -17.5}, "encoding": {"text": {"field": "r"}}},
   {"mark": {"type": "text", "align": "left", "dx": -20.8}, "encoding": {"text": {"field": "q"}}}
  ]},
 {"width": 372, "height": 156, "layer": [
  {"data": {"name": "s7"}, "mark": {"type": "line", "color": "#111", "strokeWidth": 1.5},
   "encoding": {
    "x": {"field": "t", "type": "quantitative", "scale": {"domain": [-2.985, 10.896], "nice": false, "zero": false}, "axis": {"title": "Time (s)", "values": [0, 2, 4, 6, 8, 10], "offset": -42, "titlePadding": 2}},
    "y": {"field": "v", "type": "quantitative", "scale": {"domain": [-0.185714, 0.132653], "nice": false, "zero": false}, "axis": {"title": "ΔP/L (kPa/m)", "values": [-0.1, 0, 0.1], "labelExpr": "'' + datum.value", "offset": -80, "titlePadding": 16}}}},
  {"data": {"values": [{}]}, "mark": {"type": "rect", "fillOpacity": 0, "stroke": "#222", "strokeWidth": 1},
   "encoding": {"x": {"datum": 0}, "x2": {"datum": 10}, "y": {"datum": -0.1}, "y2": {"datum": 0.1}}}
 ]},
 {"width": 377, "height": 156, "layer": [
  {"data": {"values": [{}]}, "mark": {"type": "rule", "color": "#9a9a9a", "strokeWidth": 1.5}, "encoding": {"x": {"datum": 0.5}, "x2": {"datum": 10.5}, "y": {"datum": 1.5e-3}}},
  {"data": {"name": "b7"}, "mark": {"type": "bar", "orient": "vertical", "size": 12.5, "fill": "#4472C4", "stroke": "#1a1a1a", "strokeWidth": 0.8},
   "encoding": {
    "x": {"field": "d", "type": "quantitative", "scale": {"domain": [-3.047, 11.212], "nice": false, "zero": false}, "axis": {"title": "Level of Decomposition", "values": [1, 2, 3, 4, 5, 6, 7, 8, 9, 10], "labelExpr": "'D' + datum.value", "offset": -45, "tickSize": 4, "labelPadding": 10, "titlePadding": 1}},
    "y": {"field": "e", "type": "quantitative", "scale": {"domain": [-7.03125e-4, 1.734375e-3], "nice": false, "zero": false}, "axis": {"title": "Wavelet Energy", "values": [0, 5e-4, 1e-3, 1.5e-3], "labelExpr": "replace(replace(format(datum.value, '.1e'), 'e-', 'E-0'), 'e+', 'E+0')", "offset": -94, "tickSize": 4, "labelPadding": 3, "titlePadding": 12}}}},
  {"data": {"values": [{}]}, "mark": {"type": "rule", "color": "#8a8a8a", "strokeWidth": 2}, "encoding": {"x": {"datum": 0.5}, "x2": {"datum": 10.5}, "y": {"datum": 0}}},
  {"data": {"values": [{}]}, "mark": {"type": "rule", "color": "#444", "strokeWidth": 1}, "encoding": {"x": {"datum": 0.5}, "y": {"datum": 0}, "y2": {"datum": 1.5e-3}}}
 ]}
]
}
